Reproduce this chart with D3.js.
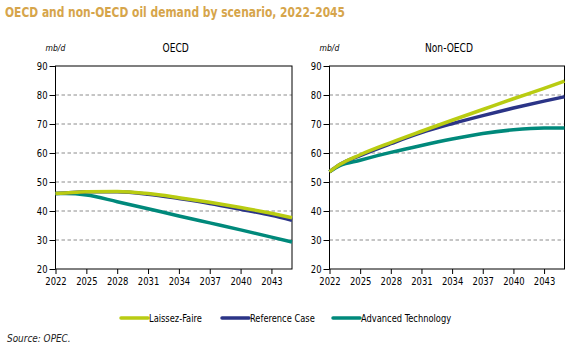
<!DOCTYPE html>
<html>
<head>
<meta charset="utf-8">
<script src="https://cdn.jsdelivr.net/npm/d3@7"></script>
<style>
  body { margin: 0; background: #fff; }
  text { font-family: "DejaVu Sans Condensed", "DejaVu Sans", sans-serif; font-stretch: condensed; }
</style>
</head>
<body>
<script>
const years = [2022, 2023, 2025, 2028, 2031, 2034, 2037, 2040, 2043, 2045];
const tickYears = [2022, 2025, 2028, 2031, 2034, 2037, 2040, 2043];
const yTicks = [20, 30, 40, 50, 60, 70, 80, 90];

const oecdLaissez   = [46.0, 46.2, 46.6, 46.7, 46.0, 44.6, 43.0, 41.2, 39.2, 37.7];
const oecdReference = [46.0, 46.2, 46.6, 46.6, 45.8, 44.3, 42.6, 40.6, 38.5, 36.8];
const oecdAdvanced  = [46.0, 46.0, 45.5, 43.2, 40.8, 38.3, 35.9, 33.5, 31.0, 29.3];

const nonLaissez    = [53.5, 56.0, 59.4, 63.6, 67.5, 71.3, 75.0, 78.7, 82.3, 84.8];
const nonReference  = [53.5, 56.0, 59.1, 63.2, 67.0, 70.1, 72.9, 75.5, 77.9, 79.4];
const nonAdvanced   = [53.5, 55.6, 57.5, 60.2, 62.6, 64.8, 66.7, 68.0, 68.6, 68.6];

const seriesNames = ["Laissez-Faire", "Reference Case", "Advanced Technology"];
const colors = ["#b9cc12", "#2b3487", "#00897b"];

// the source uses a narrow DIN-like face, squeeze text to match its width
function condense(sel, f) {
  sel.each(function () {
    const w = this.getComputedTextLength();
    d3.select(this).attr("textLength", w * f).attr("lengthAdjust", "spacingAndGlyphs");
  });
}

const svg = d3.select("body").append("svg")
  .attr("width", 572).attr("height", 349);

svg.append("text")
  .attr("x", 5).attr("y", 17)
  .attr("fill", "#d6a54b")
  .attr("font-size", 14).attr("font-weight", "bold")
  .text("OECD and non-OECD oil demand by scenario, 2022\u20132045")
  .call(condense, 0.85);

function panel(left, right, title, data) {
  const top = 66, bottom = 269;
  const x = d3.scaleLinear().domain([2022, 2045]).range([left, right]);
  const y = d3.scaleLinear().domain([20, 90]).range([bottom, top]);
  const g = svg.append("g");

  // grid
  g.selectAll(".grid").data(yTicks.filter(d => d > 20 && d < 90)).join("line")
    .attr("x1", left).attr("x2", right)
    .attr("y1", d => y(d)).attr("y2", d => y(d))
    .attr("stroke", "#707070").attr("stroke-width", 0.8)
    .attr("stroke-dasharray", "3.5,2.5");

  // frame
  g.append("rect")
    .attr("x", left).attr("y", top)
    .attr("width", right - left).attr("height", bottom - top)
    .attr("fill", "none").attr("stroke", "#000").attr("stroke-width", 1);

  const yAxis = g.append("g")
    .attr("transform", "translate(" + left + ",0)")
    .call(d3.axisLeft(y).tickValues(yTicks).tickSize(6).tickPadding(2));
  const xAxis = g.append("g")
    .attr("transform", "translate(0," + bottom + ")")
    .call(d3.axisBottom(x).tickValues(tickYears).tickFormat(d3.format("d")).tickSize(5).tickPadding(3));
  [yAxis, xAxis].forEach(a => {
    a.select(".domain").remove();
    a.selectAll("line").attr("stroke", "#000");
    a.selectAll("text").attr("font-size", 11).attr("fill", "#000")
      .style("font-family", "'DejaVu Sans Condensed', 'DejaVu Sans', sans-serif")
      .call(condense, 0.85);
  });

  g.append("text")
    .attr("x", left - 10).attr("y", 51)
    .attr("font-size", 8.5).attr("font-style", "italic")
    .text("mb/d");
  g.append("text")
    .attr("x", (left + right) / 2 + 2).attr("y", 52)
    .attr("text-anchor", "middle").attr("font-size", 11.5)
    .text(title)
    .call(condense, 0.88);

  const line = d3.line()
    .x((d, i) => x(years[i]))
    .y(d => y(d))
    .curve(d3.curveMonotoneX);

  // draw advanced, reference, then laissez on top
  [2, 1, 0].forEach(k => {
    g.append("path")
      .datum(data[k])
      .attr("d", line)
      .attr("fill", "none")
      .attr("stroke", colors[k])
      .attr("stroke-width", 3.5);
  });
}

panel(55.5, 292, "OECD", [oecdLaissez, oecdReference, oecdAdvanced]);
panel(329.5, 564.5, "Non-OECD", [nonLaissez, nonReference, nonAdvanced]);

// legend
const legendX = [121, 222, 333];
const legend = svg.append("g");
seriesNames.forEach((name, i) => {
  legend.append("line")
    .attr("x1", legendX[i]).attr("x2", legendX[i] + 27)
    .attr("y1", 318).attr("y2", 318)
    .attr("stroke", colors[i]).attr("stroke-width", 3.5)
    .attr("stroke-linecap", "round");
  legend.append("text")
    .attr("x", legendX[i] + 28).attr("y", 322)
    .attr("font-size", 11)
    .text(name)
    .call(condense, 0.84);
});

svg.append("text")
  .attr("x", 7).attr("y", 342)
  .attr("font-size", 11).attr("font-style", "italic")
  .attr("fill", "#222")
  .text("Source: OPEC.")
  .call(condense, 0.9);
</script>
</body>
</html>
